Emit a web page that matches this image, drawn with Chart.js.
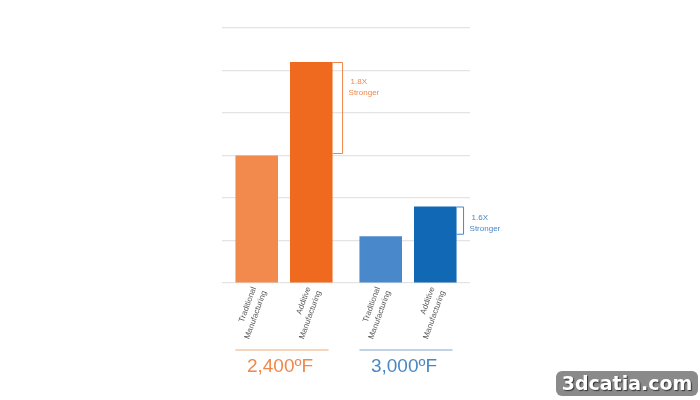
<!DOCTYPE html>
<html>
<head>
<meta charset="utf-8">
<script src="https://cdn.jsdelivr.net/npm/chart.js@4/dist/chart.umd.min.js"></script>
<style>
  html, body { margin: 0; padding: 0; background: #fff; }
  #wrap { position: relative; width: 700px; height: 400px; }
  #badge {
    position: absolute; left: 556px; top: 371px; width: 142px; height: 25px;
    background: #8a8a8a; border-radius: 6px; color: #fff;
    font: bold 19px "DejaVu Sans", sans-serif; text-align: center; line-height: 25px;
    text-shadow: 1px 1px 1px #333;
  }
</style>
</head>
<body>
<div id="wrap">
  <canvas id="chart" width="700" height="400"></canvas>
  <div id="badge">3dcatia.com</div>
</div>
<script>
// Chart values
const groups = ['2,400ºF', '3,000ºF'];
const traditional = [3.0, 1.1];
const additive = [5.2, 1.8];
const ratioLabels = ['1.8X', '1.6X'];
const barLabels = [['Traditional', 'Manufacturing'], ['Additive', 'Manufacturing']];

// Colours per temperature group
const tradColors = ['#f28a4e', '#4a88cc'];
const addColors = ['#ef6a1f', '#1169b5'];
const mainColors = ['#f0884c', '#4a88c4'];
const ruleColors = ['#f5c6a6', '#a8c6de'];

// Draws bar captions, group rules, temperature labels and "stronger" brackets
const annotations = {
  id: 'annotations',
  afterDatasetsDraw(chart) {
    const ctx = chart.ctx;
    const tradMeta = chart.getDatasetMeta(0).data;
    const addMeta = chart.getDatasetMeta(1).data;
    const base = chart.scales.y.getPixelForValue(0);

    ctx.save();
    groups.forEach((g, i) => {
      const t = tradMeta[i], a = addMeta[i];

      // rotated bar captions
      [t, a].forEach((bar, k) => {
        ctx.save();
        ctx.translate(bar.x + 2, base + 6);
        ctx.rotate(-70 * Math.PI / 180);
        ctx.fillStyle = '#5a5a5a';
        ctx.font = '8px "Liberation Sans", Arial, sans-serif';
        ctx.textAlign = 'right';
        ctx.textBaseline = 'middle';
        ctx.fillText(barLabels[k][0], 0, -5);
        ctx.fillText(barLabels[k][1], 0, 6);
        ctx.restore();
      });

      // group rule
      const left = t.x - t.width / 2;
      const right = a.x + a.width / 2 - 4;
      ctx.strokeStyle = ruleColors[i];
      ctx.lineWidth = 1.5;
      ctx.beginPath();
      ctx.moveTo(left, base + 67);
      ctx.lineTo(right, base + 67);
      ctx.stroke();

      // temperature label
      ctx.fillStyle = mainColors[i];
      ctx.font = '19px "Liberation Sans", Arial, sans-serif';
      ctx.textAlign = 'center';
      ctx.textBaseline = 'middle';
      ctx.fillText(g, (left + right) / 2 - 2, base + 84);

      // bracket
      const bx = a.x + a.width / 2 + (i === 0 ? 10 : 7);
      const top = a.y;
      const bottom = chart.scales.y.getPixelForValue(traditional[i]) - 2;
      ctx.strokeStyle = mainColors[i];
      ctx.lineWidth = 1;
      ctx.beginPath();
      ctx.moveTo(a.x + a.width / 2, top + 0.5);
      ctx.lineTo(bx, top + 0.5);
      ctx.lineTo(bx, bottom);
      ctx.lineTo(a.x + a.width / 2, bottom);
      ctx.stroke();

      const span = bottom - top;
      const ty = top + Math.min(20, span * 0.4);
      ctx.fillStyle = mainColors[i];
      ctx.font = '8px "Liberation Sans", Arial, sans-serif';
      ctx.textAlign = 'left';
      ctx.fillText(ratioLabels[i], bx + 8, ty);
      ctx.fillText('Stronger', bx + 6, ty + 11);
    });
    ctx.restore();
  }
};

new Chart(document.getElementById('chart'), {
  type: 'bar',
  data: {
    labels: groups,
    datasets: [
      {
        label: 'Traditional Manufacturing',
        data: traditional,
        backgroundColor: tradColors,
        categoryPercentage: 0.88,
        barPercentage: 0.78
      },
      {
        label: 'Additive Manufacturing',
        data: additive,
        backgroundColor: addColors,
        categoryPercentage: 0.88,
        barPercentage: 0.78
      }
    ]
  },
  options: {
    responsive: false,
    animation: false,
    layout: { padding: { left: 222, right: 230, top: 28, bottom: 117 } },
    plugins: { legend: { display: false }, tooltip: { enabled: false } },
    scales: {
      x: { display: false },
      y: {
        min: 0,
        max: 6,
        ticks: { display: false, stepSize: 1 },
        grid: { color: '#e4e4e4', drawTicks: false, lineWidth: 1.2 },
        border: { display: false }
      }
    }
  },
  plugins: [annotations]
});
</script>
</body>
</html>
